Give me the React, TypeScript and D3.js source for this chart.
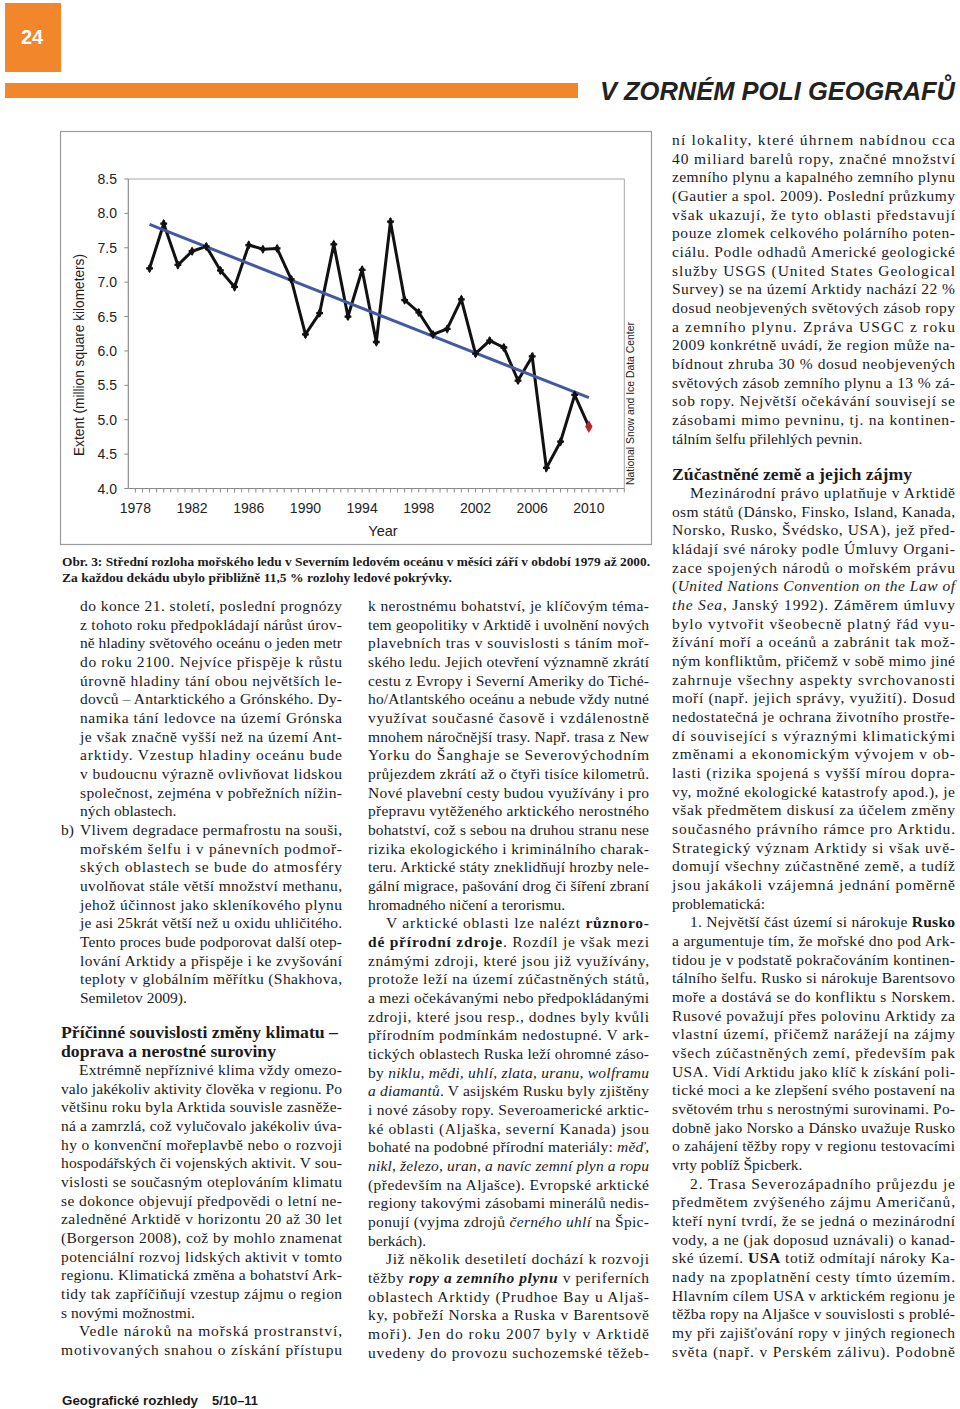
import React from "react";
import * as d3 from "d3";

// ---------- chart data ----------
const years = [1979, 1980, 1981, 1982, 1983, 1984, 1985, 1986, 1987, 1988, 1989, 1990, 1991, 1992, 1993, 1994, 1995, 1996, 1997, 1998, 1999, 2000, 2001, 2002, 2003, 2004, 2005, 2006, 2007, 2008, 2009];
const extent = [7.20, 7.85, 7.25, 7.45, 7.52, 7.17, 6.93, 7.54, 7.48, 7.49, 7.04, 6.24, 6.55, 7.55, 6.50, 7.18, 6.13, 7.88, 6.74, 6.56, 6.24, 6.32, 6.75, 5.96, 6.15, 6.05, 5.57, 5.92, 4.30, 4.68, 5.36];
const lastYear = [2010];
const lastExtent = [4.90];
const trendYears = [1979, 2010];
const trendValues = [7.84, 5.32];
const xTickLabels = [1978, 1982, 1986, 1990, 1994, 1998, 2002, 2006, 2010];
const yTickLabels = [4.0, 4.5, 5.0, 5.5, 6.0, 6.5, 7.0, 7.5, 8.0, 8.5];
const yTitle = "Extent (million square kilometers)";
const xTitle = "Year";
const sourceNote = "National Snow and Ice Data Center";

// ---------- page text ----------
const headerTitle = "V ZORNÉM POLI GEOGRAFŮ";
const pageNumber = "24";
const captionLines = [
  "Obr. 3: Střední rozloha mořského ledu v Severním ledovém oceánu v měsíci září v období 1979 až 2000.",
  "Za každou dekádu ubylo přibližně 11,5 % rozlohy ledové pokrývky.",
];
const footerLeft = "Geografické rozhledy";
const footerRight = "5/10–11";

// ">" = indent, "~" = last line of paragraph (not justified)
const leftListA = [
  "do konce 21. století, poslední prognózy",
  "z tohoto roku předpokládají nárůst úrov-",
  "ně hladiny světového oceánu o jeden metr",
  "do roku 2100. Nejvíce přispěje k růstu",
  "úrovně hladiny tání obou největších le-",
  "dovců – Antarktického a Grónského. Dy-",
  "namika tání ledovce na území Grónska",
  "je však značně vyšší než na území Ant-",
  "arktidy. Vzestup hladiny oceánu bude",
  "v budoucnu výrazně ovlivňovat lidskou",
  "společnost, zejména v pobřežních nížin-",
  "ných oblastech.~",
  "Vlivem degradace permafrostu na souši,",
  "mořském šelfu i v pánevních podmoř-",
  "ských oblastech se bude do atmosféry",
  "uvolňovat stále větší množství methanu,",
  "jehož účinnost jako skleníkového plynu",
  "je asi 25krát větší než u oxidu uhličitého.",
  "Tento proces bude podporovat další otep-",
  "lování Arktidy a přispěje i ke zvyšování",
  "teploty v globálním měřítku (Shakhova,",
  "Semiletov 2009).~",
];
const leftHeading = ["Příčinné souvislosti změny klimatu –", "doprava a nerostné suroviny"];
const leftBody = [
  ">Extrémně nepříznivé klima vždy omezo-",
  "valo jakékoliv aktivity člověka v regionu. Po",
  "většinu roku byla Arktida souvisle zasněže-",
  "ná a zamrzlá, což vylučovalo jakékoliv úva-",
  "hy o konvenční mořeplavbě nebo o rozvoji",
  "hospodářských či vojenských aktivit. V sou-",
  "vislosti se současným oteplováním klimatu",
  "se dokonce objevují předpovědi o letní ne-",
  "zaledněné Arktidě v horizontu 20 až 30 let",
  "(Borgerson 2008), což by mohlo znamenat",
  "potenciální rozvoj lidských aktivit v tomto",
  "regionu. Klimatická změna a bohatství Ark-",
  "tidy tak zapříčiňují vzestup zájmu o region",
  "s novými možnostmi.~",
  ">Vedle nároků na mořská prostranství,",
  "motivovaných snahou o získání přístupu",
];
const middleBody = [
  "k nerostnému bohatství, je klíčovým téma-",
  "tem geopolitiky v Arktidě i uvolnění nových",
  "plavebních tras v souvislosti s táním moř-",
  "ského ledu. Jejich otevření významně zkrátí",
  "cestu z Evropy i Severní Ameriky do Tiché-",
  "ho/Atlantského oceánu a nebude vždy nutné",
  "využívat současné časově i vzdálenostně",
  "mnohem náročnější trasy. Např. trasa z New",
  "Yorku do Šanghaje se Severovýchodním",
  "průjezdem zkrátí až o čtyři tisíce kilometrů.",
  "Nové plavební cesty budou využívány i pro",
  "přepravu vytěženého arktického nerostného",
  "bohatství, což s sebou na druhou stranu nese",
  "rizika ekologického i kriminálního charak-",
  "teru. Arktické státy zneklidňují hrozby nele-",
  "gální migrace, pašování drog či šíření zbraní",
  "hromadného ničení a terorismu.~",
  ">V arktické oblasti lze nalézt **různoro-**",
  "**dé přírodní zdroje**. Rozdíl je však mezi",
  "známými zdroji, které jsou již využívány,",
  "protože leží na území zúčastněných států,",
  "a mezi očekávanými nebo předpokládanými",
  "zdroji, které jsou resp., dodnes byly kvůli",
  "přírodním podmínkám nedostupné. V ark-",
  "tických oblastech Ruska leží ohromné záso-",
  "by *niklu, mědi, uhlí, zlata, uranu, wolframu*",
  "*a diamantů*. V asijském Rusku byly zjištěny",
  "i nové zásoby ropy. Severoamerické arktic-",
  "ké oblasti (Aljaška, severní Kanada) jsou",
  "bohaté na podobné přírodní materiály: *měď,*",
  "*nikl, železo, uran, a navíc zemní plyn a ropu*",
  "(především na Aljašce). Evropské arktické",
  "regiony takovými zásobami minerálů nedis-",
  "ponují (vyjma zdrojů *černého uhlí* na Špic-",
  "berkách).~",
  ">Již několik desetiletí dochází k rozvoji",
  "těžby ***ropy a zemního plynu*** v periferních",
  "oblastech Arktidy (Prudhoe Bay u Aljaš-",
  "ky, pobřeží Norska a Ruska v Barentsově",
  "moři). Jen do roku 2007 byly v Arktidě",
  "uvedeny do provozu suchozemské těžeb-",
];
const rightTop = [
  "ní lokality, které úhrnem nabídnou cca",
  "40 miliard barelů ropy, značné množství",
  "zemního plynu a kapalného zemního plynu",
  "(Gautier a spol. 2009). Poslední průzkumy",
  "však ukazují, že tyto oblasti představují",
  "pouze zlomek celkového polárního poten-",
  "ciálu. Podle odhadů Americké geologické",
  "služby USGS (United States Geological",
  "Survey) se na území Arktidy nachází 22 %",
  "dosud neobjevených světových zásob ropy",
  "a zemního plynu. Zpráva USGC z roku",
  "2009 konkrétně uvádí, že region může na-",
  "bídnout zhruba 30 % dosud neobjevených",
  "světových zásob zemního plynu a 13 % zá-",
  "sob ropy. Největší očekávání souvisejí se",
  "zásobami mimo pevninu, tj. na kontinen-",
  "tálním šelfu přilehlých pevnin.~",
];
const rightHeading = ["Zúčastněné země a jejich zájmy"];
const rightBody = [
  ">Mezinárodní právo uplatňuje v Arktidě",
  "osm států (Dánsko, Finsko, Island, Kanada,",
  "Norsko, Rusko, Švédsko, USA), jež před-",
  "kládají své nároky podle Úmluvy Organi-",
  "zace spojených národů o mořském právu",
  "(*United Nations Convention on the Law of*",
  "*the Sea,* Janský 1992). Záměrem úmluvy",
  "bylo vytvořit všeobecně platný řád vyu-",
  "žívání moří a oceánů a zabránit tak mož-",
  "ným konfliktům, přičemž v sobě mimo jiné",
  "zahrnuje všechny aspekty svrchovanosti",
  "moří (např. jejich správy, využití). Dosud",
  "nedostatečná je ochrana životního prostře-",
  "dí související s výraznými klimatickými",
  "změnami a ekonomickým vývojem v ob-",
  "lasti (rizika spojená s vyšší mírou dopra-",
  "vy, možné ekologické katastrofy apod.), je",
  "však předmětem diskusí za účelem změny",
  "současného právního rámce pro Arktidu.",
  "Strategický význam Arktidy si však uvě-",
  "domují všechny zúčastněné země, a tudíž",
  "jsou jakákoli vzájemná jednání poměrně",
  "problematická:~",
  ">1. Největší část území si nárokuje **Rusko**",
  "a argumentuje tím, že mořské dno pod Ark-",
  "tidou je v podstatě pokračováním kontinen-",
  "tálního šelfu. Rusko si nárokuje Barentsovo",
  "moře a dostává se do konfliktu s Norskem.",
  "Rusové považují přes polovinu Arktidy za",
  "vlastní území, přičemž narážejí na zájmy",
  "všech zúčastněných zemí, především pak",
  "USA. Vidí Arktidu jako klíč k získání poli-",
  "tické moci a ke zlepšení svého postavení na",
  "světovém trhu s nerostnými surovinami. Po-",
  "dobně jako Norsko a Dánsko uvažuje Rusko",
  "o zahájení těžby ropy v regionu testovacími",
  "vrty poblíž Špicberk.~",
  ">2. Trasa Severozápadního průjezdu je",
  "předmětem zvýšeného zájmu Američanů,",
  "kteří nyní tvrdí, že se jedná o mezinárodní",
  "vody, a ne (jak doposud uznávali) o kanad-",
  "ské území. **USA** totiž odmítají nároky Ka-",
  "nady na zpoplatnění cesty tímto územím.",
  "Hlavním cílem USA v arktickém regionu je",
  "těžba ropy na Aljašce v souvislosti s problé-",
  "my při zajišťování ropy v jiných regionech",
  "světa (např. v Perském zálivu). Podobně",
];

const ORANGE = "#F2862A";
const SERIF = "'Liberation Serif', 'Times New Roman', serif";
const SANS = "'Liberation Sans', Arial, sans-serif";
const LINE_H = 18.67;
const BODY_SIZE = 15.5;

function parseSegments(s: string) {
  const parts = s.split(/(\*\*\*[^*]+\*\*\*|\*\*[^*]+\*\*|\*[^*]+\*)/).filter((p) => p.length > 0);
  return parts.map((p) => {
    if (p.startsWith("***")) return { t: p.slice(3, -3), b: true, i: true };
    if (p.startsWith("**")) return { t: p.slice(2, -2), b: true, i: false };
    if (p.startsWith("*")) return { t: p.slice(1, -1), b: false, i: true };
    return { t: p, b: false, i: false };
  });
}

function TextBlock({ lines, x, width, y0, indent = 18 }: { lines: string[]; x: number; width: number; y0: number; indent?: number }) {
  return (
    <g fontFamily={SERIF} fontSize={BODY_SIZE} fill="#1b1b1b">
      {lines.map((raw, k) => {
        let s = raw;
        let ind = 0;
        let justify = true;
        if (s.startsWith(">")) {
          ind = indent;
          s = s.slice(1);
        }
        if (s.endsWith("~")) {
          justify = false;
          s = s.slice(0, -1);
        }
        const segs = parseSegments(s);
        const props: any = {};
        if (justify) {
          props.textLength = width - ind;
          props.lengthAdjust = "spacing";
        }
        return (
          <text key={k} x={x + ind} y={y0 + k * LINE_H} xmlSpace="preserve" {...props}>
            {segs.map((sg, j) => (
              <tspan key={j} fontWeight={sg.b ? "bold" : "normal"} fontStyle={sg.i ? "italic" : "normal"}>
                {sg.t}
              </tspan>
            ))}
          </text>
        );
      })}
    </g>
  );
}

function Chart() {
  const plot = { left: 128.3, right: 624.3, top: 179, bottom: 488.5 };
  const x = d3.scaleLinear().domain([1977.5, 2012.5]).range([plot.left, plot.right]);
  const y = d3.scaleLinear().domain([4, 8.5]).range([plot.bottom, plot.top]);

  const allYears = [...years, ...lastYear];
  const allVals = [...extent, ...lastExtent];
  const line = d3
    .line<number>()
    .x((_, i) => x(allYears[i]))
    .y((d) => y(d));
  const trend = d3
    .line<number>()
    .x((_, i) => x(trendYears[i]))
    .y((d) => y(d));

  const minorTicks = d3.range(1978, 2012.51, 0.5);
  const diamond = d3.symbol(d3.symbolDiamond, 26)()!;
  const cross = d3.symbol(d3.symbolCross, 26)()!;
  const redDiamond = d3.symbol(d3.symbolDiamond, 48)()!;

  return (
    <g>
      <rect x={60.5} y={131.5} width={591} height={413} fill="#fff" stroke="#9a9a9a" strokeWidth={1.2} />
      {/* plot frame */}
      <line x1={plot.left} x2={plot.right} y1={plot.top} y2={plot.top} stroke="#a8a8a8" strokeWidth={1} />
      <line x1={plot.right} x2={plot.right} y1={plot.top} y2={plot.bottom} stroke="#a8a8a8" strokeWidth={1} />
      <line x1={plot.left} x2={plot.left} y1={plot.top} y2={plot.bottom} stroke="#8a8a8a" strokeWidth={1.2} />
      <line x1={plot.left} x2={plot.right} y1={plot.bottom} y2={plot.bottom} stroke="#8a8a8a" strokeWidth={1.2} />
      {/* x ticks */}
      {minorTicks.map((t, i) => (
        <line key={i} x1={x(t)} x2={x(t)} y1={plot.bottom} y2={plot.bottom + 4} stroke="#8a8a8a" strokeWidth={1} />
      ))}
      {/* y ticks */}
      {yTickLabels.map((v, i) => (
        <line key={i} x1={plot.left - 4} x2={plot.left} y1={y(v)} y2={y(v)} stroke="#8a8a8a" strokeWidth={1} />
      ))}
      <g fontFamily={SANS} fontSize={14} fill="#222">
        {yTickLabels.map((v, i) => (
          <text key={i} x={117} y={y(v) + 5} textAnchor="end">
            {v.toFixed(1)}
          </text>
        ))}
        {xTickLabels.map((v, i) => (
          <text key={i} x={x(v)} y={513} textAnchor="middle">
            {v}
          </text>
        ))}
        <text x={383} y={536} textAnchor="middle" fontSize={14.5}>
          {xTitle}
        </text>
        <text transform="translate(84,355) rotate(-90)" textAnchor="middle" fontSize={14.5} textLength={202} lengthAdjust="spacingAndGlyphs">
          {yTitle}
        </text>
        <text transform="translate(634,485) rotate(-90)" textAnchor="start" fontSize={11} textLength={163} lengthAdjust="spacingAndGlyphs">
          {sourceNote}
        </text>
      </g>
      {/* data */}
      <path d={line(allVals)!} fill="none" stroke="#111" strokeWidth={3} strokeLinejoin="miter" />
      <path d={trend(trendValues)!} fill="none" stroke="#4459A3" strokeWidth={3} />
      {years.map((yr, i) => (
        <g key={yr} transform={`translate(${x(yr)},${y(extent[i])})`}>
          <path d={diamond} fill="#111" />
          <path d={cross} fill="#111" />
        </g>
      ))}
      {lastYear.map((yr, i) => (
        <path key={yr} d={redDiamond} transform={`translate(${x(yr)},${y(lastExtent[i])})`} fill="#B5262B" />
      ))}
    </g>
  );
}

export default function App() {
  return (
    <svg width={960} height={1409} viewBox="0 0 960 1409" style={{ position: "absolute", left: 0, top: 0, background: "#fff" }}>
      <rect x={0} y={0} width={960} height={1409} fill="#fff" />
      {/* header */}
      <rect x={5} y={3} width={56} height={69} fill={ORANGE} />
      <text x={32} y={44} textAnchor="middle" fontFamily={SANS} fontWeight="bold" fontSize={20} fill="#fff">
        {pageNumber}
      </text>
      <rect x={5} y={83} width={573} height={15} fill={ORANGE} />
      <text x={600} y={100} fontFamily={SANS} fontWeight="bold" fontStyle="italic" fontSize={25} fill="#222" textLength={355} lengthAdjust="spacingAndGlyphs">
        {headerTitle}
      </text>

      <Chart />

      {/* caption */}
      <g fontFamily={SERIF} fontWeight="bold" fontSize={13} fill="#1b1b1b">
        <text x={62} y={566} textLength={588} lengthAdjust="spacingAndGlyphs">
          {captionLines[0]}
        </text>
        <text x={62} y={582} textLength={390} lengthAdjust="spacingAndGlyphs">
          {captionLines[1]}
        </text>
      </g>

      {/* left column */}
      <TextBlock lines={leftListA} x={80} width={262} y0={611} />
      <text x={61} y={611 + 12 * LINE_H} fontFamily={SERIF} fontSize={BODY_SIZE} fill="#1b1b1b">
        b)
      </text>
      <g fontFamily={SERIF} fontWeight="bold" fontSize={17} fill="#1b1b1b">
        <text x={61} y={1038} textLength={277} lengthAdjust="spacingAndGlyphs">
          {leftHeading[0]}
        </text>
        <text x={61} y={1056.5} textLength={215} lengthAdjust="spacingAndGlyphs">
          {leftHeading[1]}
        </text>
      </g>
      <TextBlock lines={leftBody} x={61} width={281} y0={1075} />

      {/* middle column */}
      <TextBlock lines={middleBody} x={368} width={281} y0={611} />

      {/* right column */}
      <TextBlock lines={rightTop} x={672} width={283} y0={145} />
      <text x={672} y={479.5} fontFamily={SERIF} fontWeight="bold" fontSize={17.5} fill="#1b1b1b" textLength={240} lengthAdjust="spacingAndGlyphs">
        {rightHeading[0]}
      </text>
      <TextBlock lines={rightBody} x={672} width={283} y0={498} />

      {/* footer */}
      <g fontFamily={SANS} fontWeight="bold" fontSize={13} fill="#1b1b1b">
        <text x={62} y={1405} textLength={136} lengthAdjust="spacingAndGlyphs">
          {footerLeft}
        </text>
        <text x={212} y={1405} textLength={46} lengthAdjust="spacingAndGlyphs">
          {footerRight}
        </text>
      </g>
    </svg>
  );
}
